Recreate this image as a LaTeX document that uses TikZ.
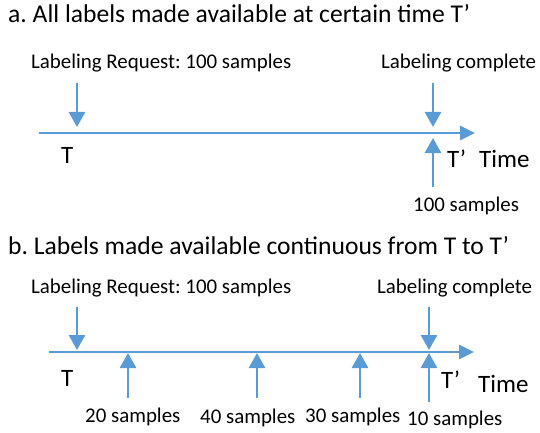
\documentclass[tikz,border=0pt]{standalone}
\usepackage{fontspec}
\setmainfont{Carlito}
\frenchspacing
\usetikzlibrary{arrows.meta}
\definecolor{lineblue}{HTML}{5B9BD5}

\begin{document}
\begin{tikzpicture}[x=1pt, y=-1pt,
    timeaxis/.style={lineblue, line width=2.7pt, -{Triangle[width=14pt,length=15pt]}},
    evarrow/.style={lineblue, line width=2.7pt, -{Triangle[width=16pt,length=15pt]}},
    heading/.style={anchor=base west, inner sep=0pt, font=\fontsize{25.6}{30}\selectfont},
    note/.style={anchor=base west, inner sep=0pt, font=\fontsize{20.9}{25}\selectfont},
    timelbl/.style={anchor=base west, inner sep=0pt, font=\fontsize{25}{30}\selectfont}]
    \useasboundingbox (0,0) rectangle (540,433);

    % a: everything comes back at T'
    \node[heading] (titleA) at (8,23) {a. All labels made available at certain time T’};
    \node[note] (reqA) at (31,69) {Labeling Request: 100 samples};
    \node[note] (doneA) at (381,69) {Labeling complete};

    % Time axis
    \coordinate (startA) at (39,133);
    \coordinate (endA) at (475,133);
    \draw[timeaxis] (startA) -- (endA);
    \node[timelbl] (tA) at (61,163) {T};
    \node[timelbl] (tpA) at (447,167) {T’};
    \node[timelbl] (timeA) at (479,167) {Time};

    % Request and completion
    \coordinate (reqTopA) at (77,83);
    \coordinate (reqTipA) at (77,127);
    \draw[evarrow] (reqTopA) -- (reqTipA);
    \coordinate (doneTopA) at (433,83);
    \coordinate (doneTipA) at (433,127);
    \draw[evarrow] (doneTopA) -- (doneTipA);

    % Labels returned
    \coordinate (backBotA) at (433,187);
    \coordinate (backTipA) at (433,138);
    \draw[evarrow] (backBotA) -- (backTipA);
    \node[note] (nA) at (413,211) {100 samples};

    % b: labels trickle in between T and T'
    \begin{scope}[yshift=-220pt]
        \node[heading] (titleB) at (8,34) {b. Labels made available continuous from T to T’};
        \node[note] (reqB) at (31,73) {Labeling Request: 100 samples};
        \node[note] (doneB) at (377,73) {Labeling complete};

        % Time axis
        \coordinate (startB) at (49,132);
        \coordinate (endB) at (474,132);
        \draw[timeaxis] (startB) -- (endB);
        \node[timelbl] (tB) at (61,166) {T};
        \node[timelbl] (tpB) at (441,168) {T’};
        \node[timelbl] (timeB) at (478,172) {Time};

        % Request and completion
        \coordinate (reqTopB) at (77,87);
        \coordinate (reqTipB) at (77,130);
        \draw[evarrow] (reqTopB) -- (reqTipB);
        \coordinate (doneTopB) at (429,87);
        \coordinate (doneTipB) at (429,130);
        \draw[evarrow] (doneTopB) -- (doneTipB);

        % Partial batches
        \coordinate (b1Bot) at (128,178);
        \coordinate (b1Tip) at (128,133);
        \draw[evarrow] (b1Bot) -- (b1Tip);
        \node[note] (n1) at (85,202) {20 samples};

        \coordinate (b2Bot) at (257,178);
        \coordinate (b2Tip) at (257,133);
        \draw[evarrow] (b2Bot) -- (b2Tip);
        \node[note] (n2) at (200,203) {40 samples};

        \coordinate (b3Bot) at (360,178);
        \coordinate (b3Tip) at (360,133);
        \draw[evarrow] (b3Bot) -- (b3Tip);
        \node[note] (n3) at (305,202) {30 samples};

        \coordinate (b4Bot) at (429,182);
        \coordinate (b4Tip) at (429,133);
        \draw[evarrow] (b4Bot) -- (b4Tip);
        \node[note] (n4) at (407,205) {10 samples};
    \end{scope}
\end{tikzpicture}
\end{document}
